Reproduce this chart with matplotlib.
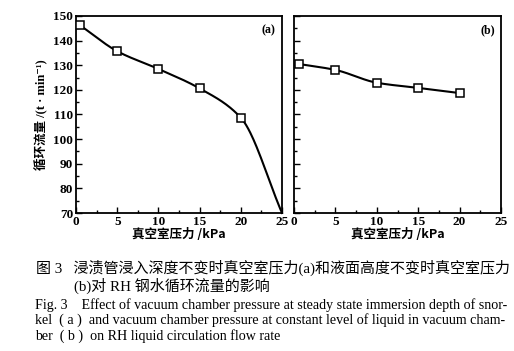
import numpy as np
import matplotlib
matplotlib.use("Agg")
import matplotlib.pyplot as plt
from matplotlib.ticker import MultipleLocator
from matplotlib.font_manager import FontProperties

SERIF = ['Liberation Serif', 'Noto Sans CJK SC', 'DejaVu Sans']
CJK = ['Noto Sans CJK SC', 'Liberation Serif', 'DejaVu Sans']
plt.rcParams['font.family'] = SERIF

# data
pressure_a = [0.5, 5, 10, 15, 20]
flow_a = [146.2, 135.7, 128.5, 120.6, 108.7]
line_end_a = (25, 70)
pressure_b = [0.6, 5, 10, 15, 20]
flow_b = [130.5, 128.1, 122.9, 120.8, 118.7]
xticks = [0, 5, 10, 15, 20, 25]
yticks = [70, 80, 90, 100, 110, 120, 130, 140, 150]
panel_labels = ['(a)', '(b)']
ylabel = '循环流量 /(t · min⁻¹)'
xlabel = '真空室压力 /kPa'
cap_cn1 = '图 3   浸渍管浸入深度不变时真空室压力(a)和液面高度不变时真空室压力'
cap_cn2 = '(b)对 RH 钢水循环流量的影响'
cap_en1 = 'Fig. 3    Effect of vacuum chamber pressure at steady state immersion depth of snor-'
cap_en2 = 'kel  ( a )  and vacuum chamber pressure at constant level of liquid in vacuum cham-'
cap_en3 = 'ber  ( b )  on RH liquid circulation flow rate'


def pchip(x, y, n=200):
    x = np.asarray(x, float); y = np.asarray(y, float)
    h = np.diff(x); d = np.diff(y) / h
    m = np.zeros_like(y)
    for k in range(1, len(x) - 1):
        if d[k - 1] * d[k] > 0:
            w1 = 2 * h[k] + h[k - 1]; w2 = h[k] + 2 * h[k - 1]
            m[k] = (w1 + w2) / (w1 / d[k - 1] + w2 / d[k])
    m[0] = d[0]; m[-1] = d[-1]
    xs, ys = [], []
    for k in range(len(x) - 1):
        t = np.linspace(0, 1, n // (len(x) - 1))
        h00 = 2 * t**3 - 3 * t**2 + 1; h10 = t**3 - 2 * t**2 + t
        h01 = -2 * t**3 + 3 * t**2; h11 = t**3 - t**2
        xs.append(x[k] + t * h[k])
        ys.append(h00 * y[k] + h10 * h[k] * m[k] + h01 * y[k + 1] + h11 * h[k] * m[k + 1])
    return np.concatenate(xs), np.concatenate(ys)


fig = plt.figure(figsize=(5.14, 3.51), dpi=100)
W, H = 514, 351
axa = fig.add_axes([76 / W, (H - 213) / H, 206 / W, 197 / H])
axb = fig.add_axes([294 / W, (H - 213) / H, 207 / W, 197 / H])

tickfont = dict(family=SERIF, weight='bold', size=9.5)
for i, ax in enumerate([axa, axb]):
    ax.set_xlim(0, 25)
    ax.set_ylim(70, 150)
    ax.set_xticks(xticks)
    ax.set_yticks(yticks)
    ax.xaxis.set_minor_locator(MultipleLocator(2.5))
    ax.yaxis.set_minor_locator(MultipleLocator(5))
    ax.tick_params(which='both', direction='in', top=False, right=False, width=1.0)
    ax.tick_params(which='major', length=4, pad=2)
    ax.tick_params(which='minor', length=2.5)
    for sp in ax.spines.values():
        sp.set_linewidth(1.3)
    for lab in ax.get_xticklabels():
        lab.set_fontproperties(FontProperties(**tickfont))
    for lab in ax.get_yticklabels():
        lab.set_fontproperties(FontProperties(**tickfont))
    ax.set_xlabel(xlabel, family=CJK, weight='bold', fontsize=9, labelpad=0)
    ax.text(0.97, 0.96, panel_labels[i], transform=ax.transAxes, ha='right', va='top',
            family=SERIF, weight='bold', fontsize=8.5)

axb.tick_params(labelleft=False)
axa.set_ylabel(ylabel, family=SERIF, weight='bold', fontsize=9, labelpad=4)

xa = list(pressure_a) + [line_end_a[0]]
ya = list(flow_a) + [line_end_a[1]]
cx, cy = pchip(xa, ya)
axa.plot(cx, cy, color='black', lw=1.5, clip_on=False, zorder=2)
axa.plot(pressure_a, flow_a, ls='none', marker='s', ms=6, mfc='white', mec='black', mew=1.1, zorder=3)

cx, cy = pchip(pressure_b, flow_b)
axb.plot(cx, cy, color='black', lw=1.5, zorder=2)
axb.plot(pressure_b, flow_b, ls='none', marker='s', ms=6, mfc='white', mec='black', mew=1.1, zorder=3)

fig.text(36 / W, 1 - 268 / H, cap_cn1, family=SERIF, fontsize=10.8, va='center', ha='left')
fig.text(74 / W, 1 - 286 / H, cap_cn2, family=SERIF, fontsize=10.8, va='center', ha='left')
fig.text(35 / W, 1 - 305 / H, cap_en1, family=SERIF, fontsize=10.1, va='center', ha='left')
fig.text(35 / W, 1 - 320.5 / H, cap_en2, family=SERIF, fontsize=10.1, va='center', ha='left')
fig.text(35 / W, 1 - 336 / H, cap_en3, family=SERIF, fontsize=10.1, va='center', ha='left')

fig.savefig('out.png', dpi=100)
